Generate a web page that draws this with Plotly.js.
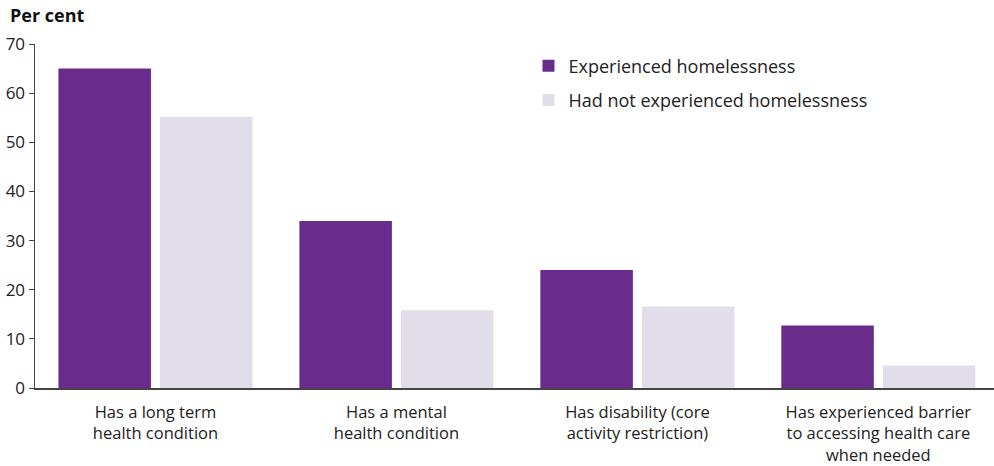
<!DOCTYPE html>
<html><head><meta charset="utf-8">
<script src="https://cdn.plot.ly/plotly-3.0.1.min.js"></script>
<style>body{margin:0;padding:0;background:#fff}</style>
</head><body>
<div id="chart" style="width:994px;height:466px"></div>
<script>
const categories = [
  "Has a long term<br>health condition",
  "Has a mental<br>health condition",
  "Has disability (core<br>activity restriction)",
  "Has experienced barrier<br>to accessing health care<br>when needed"
];
const experienced = [65, 34, 24, 12.7];
const notExperienced = [55.2, 15.8, 16.6, 4.6];
const yTicks = [0, 10, 20, 30, 40, 50, 60, 70];

const font = "'Open Sans', 'Noto Sans', sans-serif";
const data = [
  {type: "bar", x: categories, y: experienced, name: "Experienced homelessness",
   marker: {color: "#6a2c8c"}, legendgroup: "a", hoverinfo: "y"},
  {type: "bar", x: categories, y: notExperienced, name: "Had not experienced homelessness",
   marker: {color: "#e1dde9"}, legendgroup: "b", hoverinfo: "y"}
];
const layout = {
  width: 994, height: 466,
  margin: {l: 35, r: 0, t: 44, b: 78},
  paper_bgcolor: "#fff", plot_bgcolor: "#fff",
  font: {family: font, size: 17, color: "#222"},
  barmode: "group", bargap: 0.157, bargroupgap: 0.089,
  showlegend: true,
  legend: {x: 0.5146, y: 0.99, xanchor: "left", yanchor: "top", bgcolor: "rgba(0,0,0,0)",
    font: {size: 18, color: "#222"}, tracegroupgap: 8, traceorder: "grouped"},
  xaxis: {range: [-0.5, 3.48], showline: true, linecolor: "#444", linewidth: 2, ticks: "", showgrid: false,
    tickfont: {size: 16.5}, ticklabelstandoff: 8, fixedrange: true, automargin: false},
  yaxis: {range: [0, 70], tickvals: yTicks, showline: true, linecolor: "#444", linewidth: 1.5,
    ticks: "outside", ticklen: 5, tickcolor: "#444", showgrid: false, zeroline: false,
    tickfont: {size: 17}, fixedrange: true, automargin: false},
  annotations: [{text: "<b>Per cent</b>", xref: "paper", yref: "paper", x: -0.028, y: 1.0,
    xanchor: "left", yanchor: "bottom", yshift: 15, showarrow: false, font: {size: 18, color: "#111"}}]
};
Plotly.newPlot("chart", data, layout, {displayModeBar: false, staticPlot: true});
</script>
</body></html>
